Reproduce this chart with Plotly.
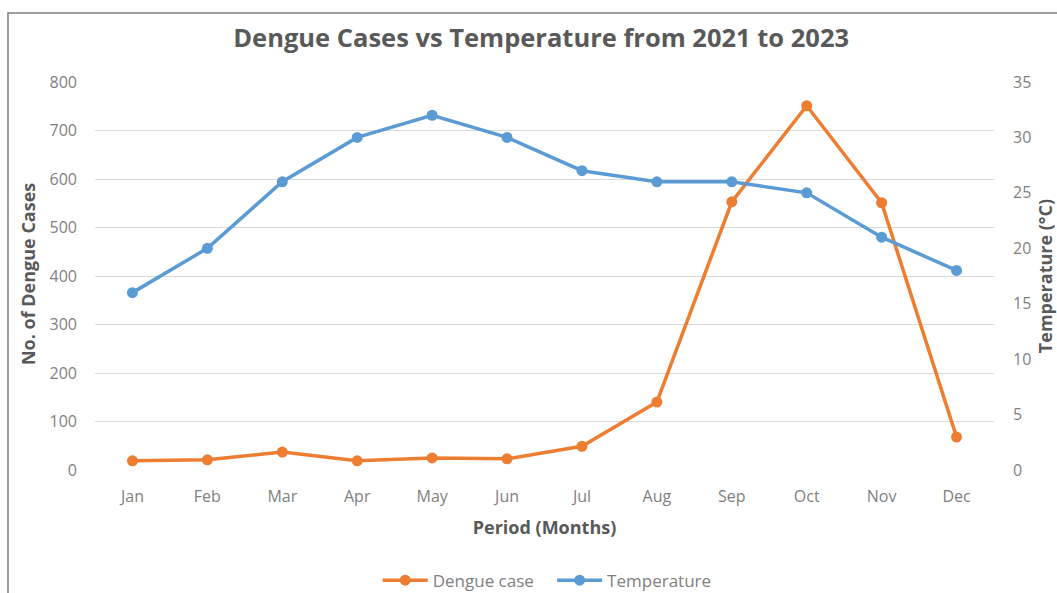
import plotly.graph_objects as go

months = ["Jan", "Feb", "Mar", "Apr", "May", "Jun", "Jul", "Aug", "Sep", "Oct", "Nov", "Dec"]
dengue_cases = [19, 21, 37, 19, 25, 23, 49, 140, 553, 751, 551, 68]
temperature = [16, 20, 26, 30, 32, 30, 27, 26, 26, 25, 21, 18]

ORANGE = "#ED7D31"
BLUE = "#5B9BD5"
TEXT = "#595959"
TICK = "#7F7F7F"
FONT = "Open Sans"

fig = go.Figure()
fig.add_trace(go.Scatter(
    x=months, y=dengue_cases, name="Dengue case   ", mode="lines+markers",
    line=dict(color=ORANGE, width=3.5), marker=dict(color=ORANGE, size=11),
    yaxis="y",
))
fig.add_trace(go.Scatter(
    x=months, y=temperature, name="Temperature", mode="lines+markers",
    line=dict(color=BLUE, width=3.5), marker=dict(color=BLUE, size=11),
    yaxis="y2",
))

fig.update_layout(
    width=1057, height=593,
    margin=dict(l=95, r=63, t=82, b=123, autoexpand=False),
    paper_bgcolor="white", plot_bgcolor="white",
    font=dict(family=FONT, color=TICK, size=16),
    title=dict(
        text="<b>Dengue Cases vs Temperature from 2021 to 2023</b>",
        x=0.512, xanchor="center", y=0.935, yanchor="middle",
        font=dict(family=FONT, size=25.5, color=TEXT),
    ),
    xaxis=dict(
        type="category", range=[-0.5, 11.5], showgrid=False, zeroline=False, showline=False,
        ticks="", ticklabelstandoff=15, tickfont=dict(size=16, color=TICK),
        title=dict(text="<b>Period (Months)</b>", font=dict(size=18, color=TEXT), standoff=15),
    ),
    yaxis=dict(
        range=[0, 800], dtick=100, showgrid=True, gridcolor="#D9D9D9", gridwidth=1,
        zeroline=False, showline=False, ticks="", ticklabelstandoff=17,
        tickfont=dict(size=16, color=TICK),
    ),
    yaxis2=dict(
        range=[0, 35], dtick=5, overlaying="y", side="right", showgrid=False,
        zeroline=False, showline=False, ticks="", ticklabelstandoff=18,
        tickfont=dict(size=16, color=TICK),
        title=dict(text="<b>Temperature (°C)</b>", font=dict(size=18, color=TEXT), standoff=20),
    ),
    legend=dict(
        orientation="h", x=0.503, xanchor="center", y=-0.285, yanchor="middle",
        font=dict(size=17, color=TICK), itemwidth=45, tracegroupgap=0,
    ),
    showlegend=True,
    annotations=[dict(
        text="<b>No. of Dengue Cases</b>", textangle=-90, showarrow=False,
        xref="paper", yref="paper", x=-0.0745, y=0.505,
        xanchor="center", yanchor="middle",
        font=dict(family=FONT, size=18, color=TEXT),
    )],
    shapes=[dict(
        type="rect", xref="paper", yref="paper",
        x0=-0.0968, x1=1.3, y0=-0.6, y1=1.178,
        line=dict(color="#7F7F7F", width=1.5), layer="below",
    )],
)

fig.write_html("out.html")
